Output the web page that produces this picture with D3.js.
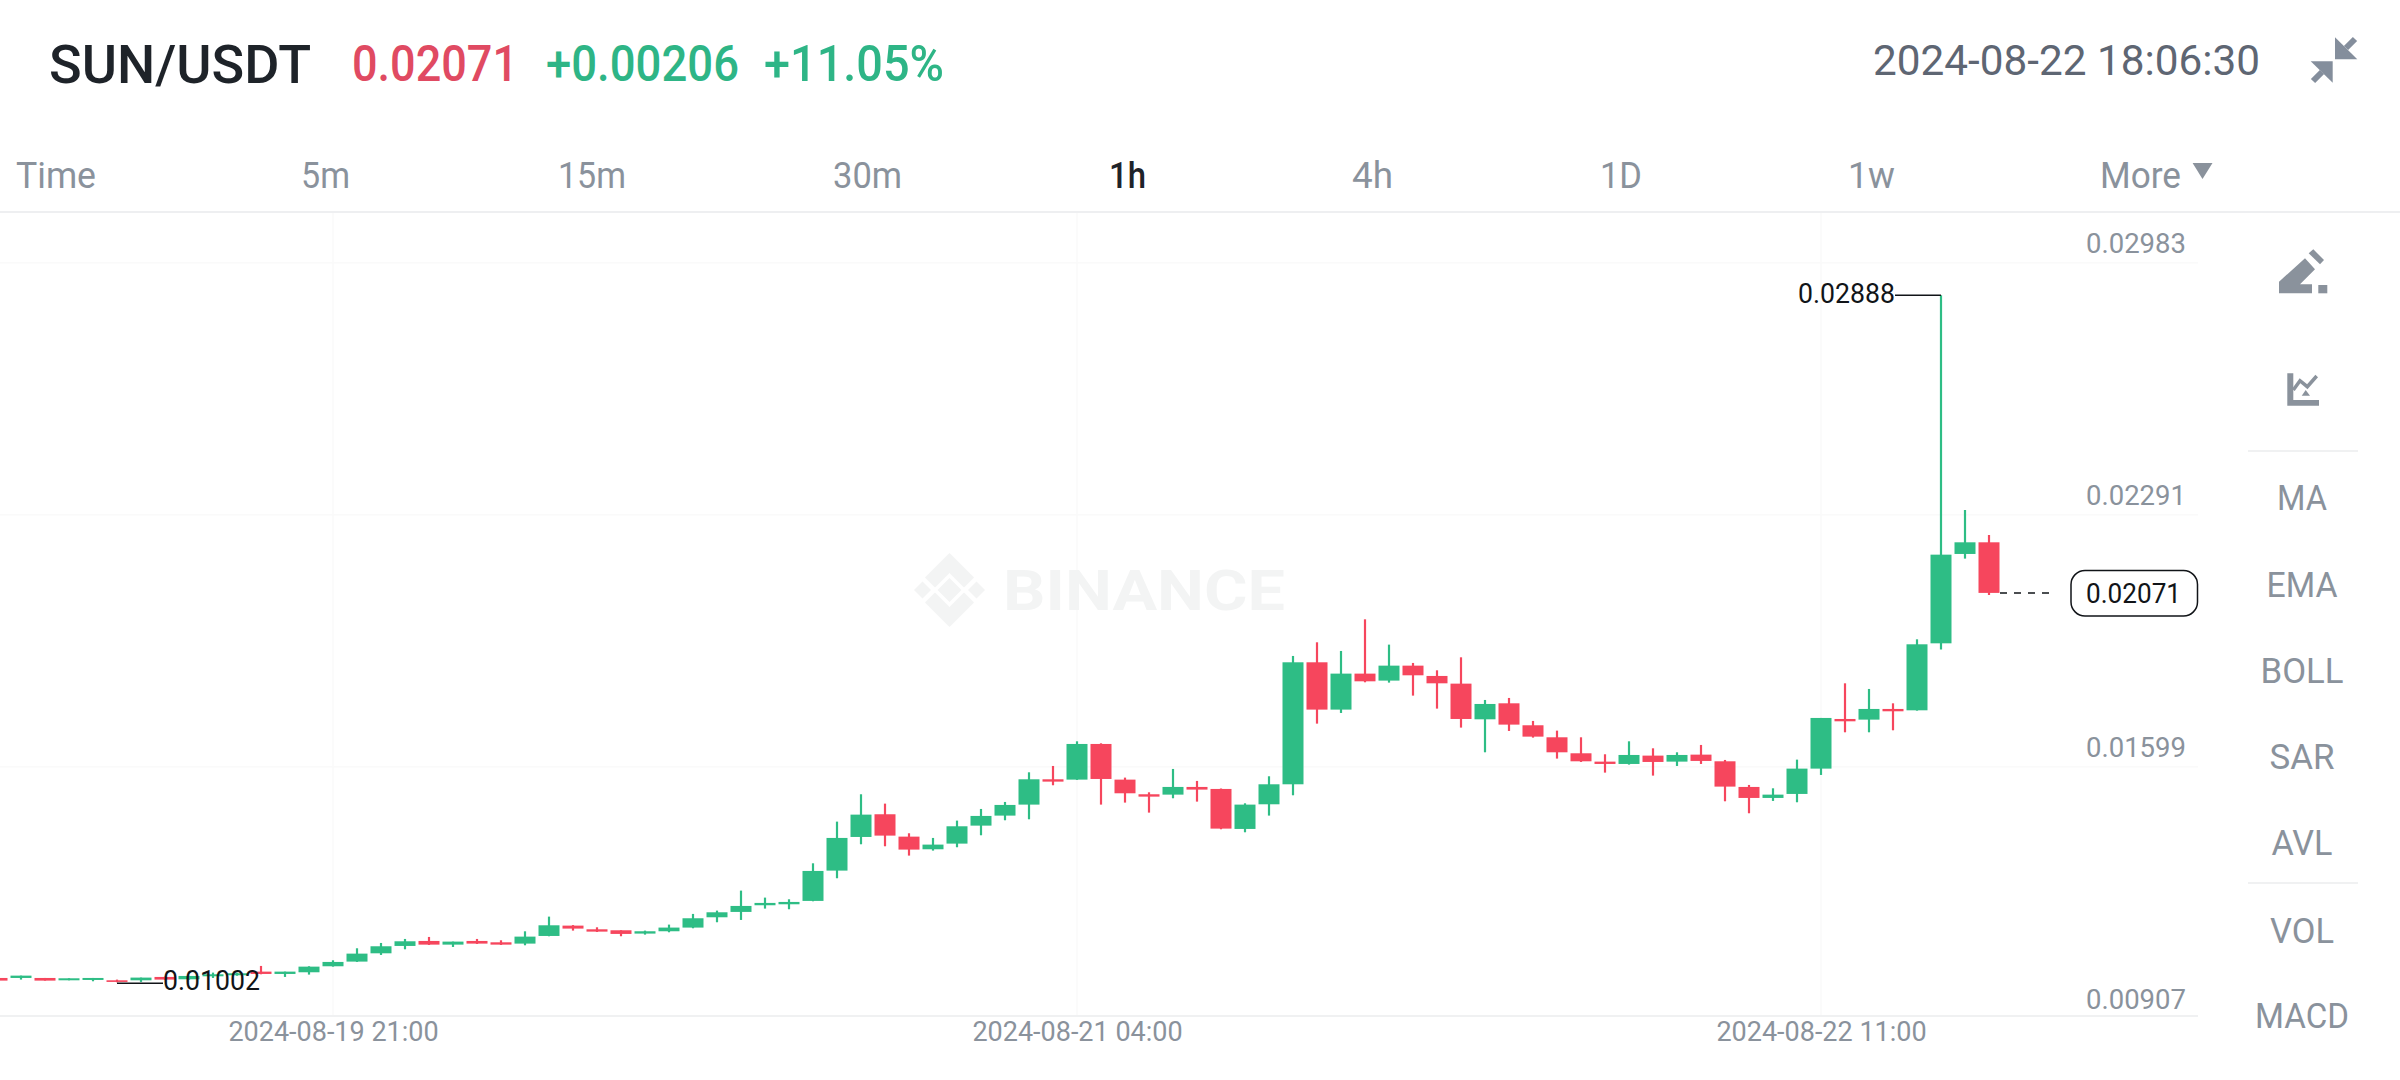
<!DOCTYPE html>
<html>
<head>
<meta charset="utf-8">
<script src="https://cdn.jsdelivr.net/npm/d3@7"></script>
<style>
html,body{margin:0;padding:0;background:#fff;overflow:hidden}
svg{display:block}
text{font-family:Roboto,"Noto Sans",sans-serif}
</style>
</head>
<body>
<div id="chart"></div>
<script>
// Hourly candles, 2024-08-19 07:00 to 2024-08-22 18:00 (UTC labels as shown)
const firstCandle = "2024-08-19T07:00:00Z";
const lastCandle = "2024-08-22T18:00:00Z";
const opens = [0.010139,0.010139,0.010139,0.010075,0.010084,0.010075,0.010075,0.010167,0.010103,0.010185,0.010213,0.010313,0.010249,0.010295,0.010460,0.010588,0.010816,0.011018,0.011155,0.011054,0.011155,0.011118,0.011082,0.011292,0.011576,0.011475,0.011448,0.011357,0.011421,0.011522,0.011805,0.011952,0.012135,0.012162,0.012254,0.013086,0.014010,0.014633,0.014019,0.013672,0.013827,0.014321,0.014596,0.014898,0.015593,0.015584,0.016563,0.015584,0.015182,0.015172,0.015383,0.015328,0.014230,0.014907,0.015456,0.018805,0.017506,0.018494,0.018302,0.018713,0.018430,0.018219,0.017240,0.017679,0.017076,0.016746,0.016307,0.016078,0.016014,0.016243,0.016078,0.016270,0.016087,0.015383,0.015081,0.015191,0.015886,0.017249,0.017231,0.017524,0.017487,0.019326,0.021779,0.022099];
const closes = [0.010066,0.010203,0.010066,0.010130,0.010139,0.010030,0.010149,0.010094,0.010194,0.010240,0.010267,0.010249,0.010313,0.010450,0.010579,0.010807,0.011009,0.011146,0.011054,0.011137,0.011082,0.011054,0.011274,0.011585,0.011494,0.011411,0.011348,0.011421,0.011522,0.011778,0.011942,0.012116,0.012199,0.012226,0.013077,0.013983,0.014623,0.014047,0.013663,0.013800,0.014303,0.014587,0.014889,0.015593,0.015529,0.016563,0.015602,0.015209,0.015117,0.015383,0.015310,0.014239,0.014898,0.015456,0.018805,0.017506,0.018494,0.018283,0.018713,0.018448,0.018228,0.017249,0.017661,0.017094,0.016764,0.016334,0.016087,0.016014,0.016261,0.016069,0.016261,0.016097,0.015392,0.015081,0.015172,0.015886,0.017277,0.017185,0.017524,0.017460,0.019299,0.021760,0.022099,0.020710];
const highs = [0.010150,0.010203,0.010139,0.010130,0.010139,0.010094,0.010149,0.010175,0.010200,0.010286,0.010285,0.010469,0.010313,0.010460,0.010624,0.010954,0.011100,0.011210,0.011265,0.011137,0.011210,0.011173,0.011420,0.011823,0.011590,0.011530,0.011448,0.011439,0.011604,0.011897,0.011988,0.012537,0.012345,0.012299,0.013287,0.014431,0.015182,0.014925,0.014111,0.013983,0.014459,0.014779,0.014971,0.015785,0.015959,0.016636,0.016581,0.015639,0.015236,0.015877,0.015548,0.015340,0.014934,0.015676,0.018979,0.019354,0.019116,0.019985,0.019290,0.018787,0.018585,0.018942,0.017771,0.017826,0.017195,0.016929,0.016746,0.016280,0.016636,0.016444,0.016334,0.016536,0.016124,0.015438,0.015346,0.016133,0.017277,0.018228,0.018073,0.017679,0.019436,0.028880,0.022986,0.022300];
const lows = [0.010060,0.010094,0.010066,0.010075,0.010048,0.010020,0.010030,0.010085,0.010090,0.010139,0.010200,0.010240,0.010167,0.010231,0.010450,0.010579,0.010771,0.010926,0.011045,0.010990,0.011073,0.011045,0.011036,0.011283,0.011439,0.011400,0.011284,0.011329,0.011393,0.011503,0.011668,0.011732,0.012043,0.012025,0.012244,0.012876,0.013809,0.013754,0.013498,0.013635,0.013727,0.014056,0.014468,0.014495,0.015429,0.015575,0.014898,0.014953,0.014678,0.015072,0.014980,0.014221,0.014138,0.014596,0.015154,0.017121,0.017414,0.018256,0.018247,0.017890,0.017533,0.017012,0.016334,0.016920,0.016737,0.016161,0.016069,0.015776,0.015996,0.015694,0.015959,0.016014,0.014989,0.014660,0.014999,0.014962,0.015712,0.016883,0.016883,0.016938,0.017478,0.019153,0.021651,0.020653];
const priceTicks = [0.00907,0.01599,0.02291,0.02983];
const timeTicks = ["2024-08-19T21:00:00Z","2024-08-21T04:00:00Z","2024-08-22T11:00:00Z"];
const timeframes = ["Time","5m","15m","30m","1h","4h","1D","1w","More"];
const timeframeLeft = [16,301,558,833,1109,1352,1600,1848,2100];
const timeframeWidth = [80,49,68,69,37,41,42,47,81];
const indicators = ["MA","EMA","BOLL","SAR","AVL","VOL","MACD"];
const indicatorBase = [510,597,683,769,855,943,1028];
const indicatorWidth = [50,71,83,65,61,64,94];
const maxPrice = 0.02888, minPrice = 0.01002, lastPrice = 0.02071;

const GREEN = "#2ebd85", RED = "#f6465d", GREY = "#8a929c", INK = "#111418";
const svg = d3.select("#chart").append("svg").attr("width",2400).attr("height",1080);
svg.append("rect").attr("width",2400).attr("height",1080).attr("fill","#fff");

const times = d3.range(opens.length);
const x = d3.scaleUtc().domain([new Date(firstCandle),new Date(lastCandle)]).range([-3,1989]);
const xAt = i => x(new Date(+new Date(firstCandle)+i*3600e3));
const y = d3.scaleLinear().domain([0.00907,0.02888]).range([1016.9,295.3]);

function label(px,base,str,size,fill,weight,width,anchor){
  const t = svg.append("text").attr("x",px).attr("y",base).attr("font-size",size)
    .attr("fill",fill).attr("font-weight",weight||400).text(str);
  if(anchor) t.attr("text-anchor",anchor);
  if(width) t.attr("textLength",width).attr("lengthAdjust","spacingAndGlyphs");
  return t;
}

// header
label(49,83,"SUN/USDT",53,"#1e2329",500,262);
label(352,81,"0.02071",50,"#e04a62",500,166);
label(546,81,"+0.00206",50,"#2eb586",500,193);
label(764,81,"+11.05%",50,"#2eb586",500,180);
label(1873,75,"2024-08-22 18:06:30",43,"#5e6673",400,387);
// compress icon
const ic = svg.append("g").attr("fill","#848e9c").attr("stroke","none");
ic.append("path").attr("d","M2335 37.3V59.3H2357.3Z");
ic.append("path").attr("d","M2310.7 61.3H2332.7V82.7Z");
ic.append("path").attr("d","M2346 48L2355 39M2322 72L2313 81").attr("stroke","#848e9c").attr("stroke-width",6);

// timeframe tabs
timeframes.forEach((s,i)=>{
  const active = s==="1h";
  label(timeframeLeft[i],188,s,36,active?"#1e2329":GREY,active?500:400,timeframeWidth[i]);
});
svg.append("path").attr("d","M2192.6 163H2212.5L2202.5 179Z").attr("fill",GREY);
svg.append("rect").attr("x",0).attr("y",211).attr("width",2400).attr("height",2).attr("fill","#eeeff1");

// grid
svg.append("g").selectAll("line").data(priceTicks.slice(1)).join("line")
  .attr("x1",0).attr("x2",2198).attr("y1",d=>y(d)+2).attr("y2",d=>y(d)+2).attr("stroke","#fafafa").attr("stroke-width",1.5);
svg.append("g").selectAll("line").data(timeTicks).join("line")
  .attr("x1",d=>x(new Date(d))).attr("x2",d=>x(new Date(d))).attr("y1",213).attr("y2",1016).attr("stroke","#fafafa").attr("stroke-width",1.5);

// watermark
const wm = svg.append("g").attr("fill","#f3f4f4");
const wc = [949.5,590];
[[0,0,12],[-27,0,8.5],[27,0,8.5]].forEach(d=>{
  const [dx,dy,r]=d, cx=wc[0]+dx, cy=wc[1]+dy;
  wm.append("path").attr("d",`M${cx} ${cy-r}L${cx+r} ${cy}L${cx} ${cy+r}L${cx-r} ${cy}Z`);
});
wm.append("path").attr("d",`M949.5 553L974 577.5L964 587.5L949.5 573L935 587.5L925 577.5Z`);
wm.append("path").attr("d",`M949.5 627L974 602.5L964 592.5L949.5 607L935 592.5L925 602.5Z`);
label(1003,610,"BINANCE",56,"#f3f4f4",700,282);

// candles
const g = svg.append("g");
g.selectAll("line").data(times).join("line")
  .attr("x1",i=>xAt(i)).attr("x2",i=>xAt(i))
  .attr("y1",i=>y(highs[i])).attr("y2",i=>y(lows[i]))
  .attr("stroke",i=>closes[i]>=opens[i]?GREEN:RED).attr("stroke-width",2.2);
g.selectAll("rect").data(times).join("rect")
  .attr("x",i=>xAt(i)-10.5).attr("width",21)
  .attr("y",i=>y(Math.max(opens[i],closes[i])))
  .attr("height",i=>Math.abs(y(opens[i])-y(closes[i])))
  .attr("fill",i=>closes[i]>=opens[i]?GREEN:RED);

// price axis
const yAxis = svg.append("g").attr("transform","translate(2086,0)")
  .call(d3.axisRight(y).tickValues(priceTicks).tickSize(0).tickPadding(0).tickFormat(d3.format(".5f")));
yAxis.select(".domain").remove();
yAxis.selectAll("text").attr("font-size",27.5).attr("fill",GREY).attr("font-family","Roboto")
  .attr("transform","translate(0,-18)").attr("dy","0.35em");

// time axis
const xAxis = svg.append("g").attr("transform","translate(0,1016)")
  .call(d3.axisBottom(x).tickValues(timeTicks.map(d=>new Date(d))).tickSize(0).tickPadding(0).tickFormat(d3.utcFormat("%Y-%m-%d %H:%M")));
xAxis.select(".domain").remove();
xAxis.selectAll("text").attr("font-size",27).attr("fill",GREY).attr("font-family","Roboto").attr("y",25).attr("dy",0);
svg.append("rect").attr("x",0).attr("y",1015).attr("width",2198).attr("height",2).attr("fill","#f0f1f2");

// extremes & last price
const lowBar = lows.indexOf(0.010020), highBar = highs.indexOf(maxPrice);
svg.append("line").attr("x1",xAt(highBar)).attr("x2",1895).attr("y1",y(maxPrice)).attr("y2",y(maxPrice)).attr("stroke",INK).attr("stroke-width",1.5);
label(1798,303,d3.format(".5f")(maxPrice),27.5,INK,400,97);
svg.append("line").attr("x1",xAt(lowBar)).attr("x2",163).attr("y1",y(minPrice)+1).attr("y2",y(minPrice)+1).attr("stroke",INK).attr("stroke-width",1.5);
label(163,990,d3.format(".5f")(minPrice),27.5,INK,400,97);
svg.append("line").attr("x1",2000).attr("x2",2055).attr("y1",y(lastPrice)).attr("y2",y(lastPrice)).attr("stroke",INK).attr("stroke-width",1.5).attr("stroke-dasharray","7 7");
svg.append("rect").attr("x",2071).attr("y",570.5).attr("width",126.5).attr("height",45.5).attr("rx",14).attr("fill","#fff").attr("stroke",INK).attr("stroke-width",1.5);
label(2086,603,d3.format(".5f")(lastPrice),27.5,INK,400,95);

// right tool panel
const tool = svg.append("g").attr("fill",GREY);
tool.append("path").attr("d","M2305 258.3L2315 269.3L2300 284.3H2312V293.3H2279V281.7Z");
tool.append("path").attr("d","M2313.3 249.3L2324 260L2320 264.3L2308.7 253.3Z");
tool.append("rect").attr("x",2318.3).attr("y",285).attr("width",9).attr("height",8.3);
tool.append("path").attr("d","M2287.3 373.3H2293.3V400H2319V405.7H2287.3Z");
tool.append("path").attr("d","M2293.3 390L2300 380.7L2307.3 386.7L2316.7 376").attr("fill","none").attr("stroke",GREY).attr("stroke-width",3.5);
tool.append("path").attr("d","M2301.7 395.7H2310L2305.7 390Z");
[451,883].forEach(v=>svg.append("rect").attr("x",2248).attr("y",v-1).attr("width",110).attr("height",2).attr("fill","#f0f1f2"));
indicators.forEach((s,i)=>{
  label(2302-indicatorWidth[i]/2,indicatorBase[i],s,35,GREY,400,indicatorWidth[i]);
});
</script>
</body>
</html>
